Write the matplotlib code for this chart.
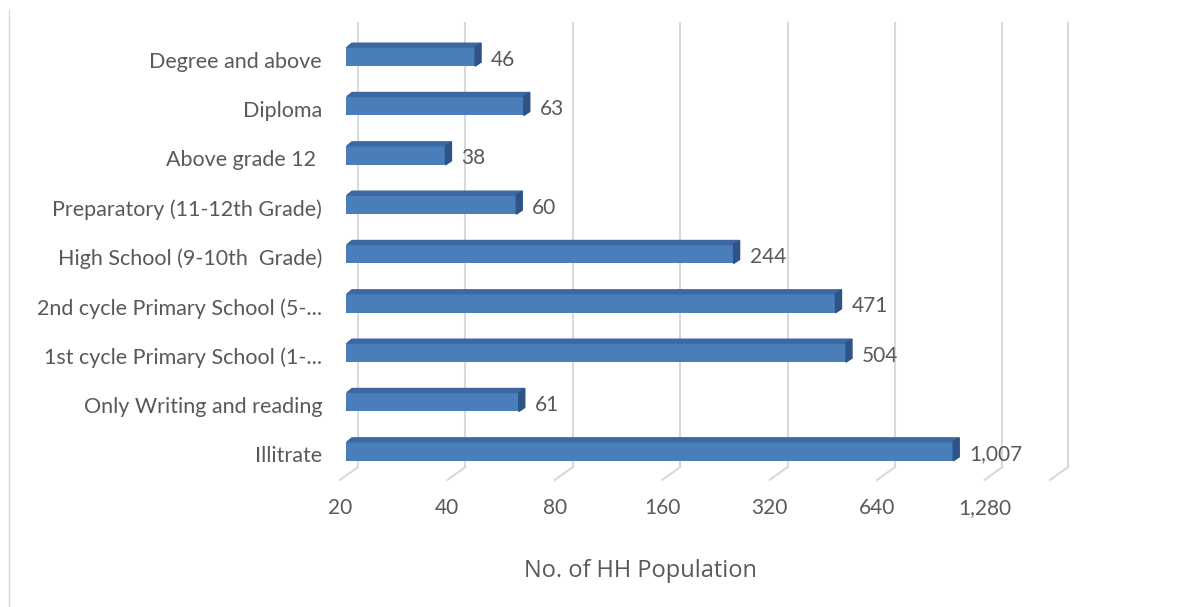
import matplotlib.pyplot as plt
import matplotlib.transforms as mtransforms
from matplotlib.patches import Polygon
from matplotlib.lines import Line2D
from matplotlib.ticker import NullLocator

# bottom to top, as Excel draws them
categories = ['Illitrate', 'Only Writing and reading', '1st cycle Primary School (1-...',
              '2nd cycle Primary School (5-...', 'High School (9-10th  Grade)',
              'Preparatory (11-12th Grade)', 'Above grade 12 ', 'Diploma', 'Degree and above']
values = [1007, 61, 504, 471, 244, 60, 38, 63, 46]

ticks = [20, 40, 80, 160, 320, 640, 1280]
tick_labels = ['20', '40', '80', '160', '320', '640', '1,280']
x_min, x_max = 20, 1955

W, H = 1189, 607
text_c = '#595959'
grid_c = '#d9d9d9'
face_c = '#4a7ebb'
top_c = '#3c68a2'
side_c = '#2f5386'
lab_font = 'Lato'

fig = plt.figure(figsize=(W / 100, H / 100), dpi=100)
ax = fig.add_axes([346 / W, (H - 476) / H, 710 / W, 444 / H])
ax.set_xscale('log', base=2)
ax.set_xlim(x_min, x_max)
ax.set_ylim(-0.5, len(categories) - 0.5)
for s in ax.spines.values():
    s.set_visible(False)
ax.xaxis.set_major_locator(NullLocator())
ax.xaxis.set_minor_locator(NullLocator())
ax.yaxis.set_major_locator(NullLocator())
ax.set_facecolor('none')

xt = ax.get_xaxis_transform()
ident = mtransforms.IdentityTransform()

# back wall gridlines + floor diagonals (fake 3D)
back = mtransforms.offset_copy(xt, fig=fig, x=12, y=9, units='dots')
for v in ticks + [x_max]:
    ax.plot([v, v], [0, 1], color=grid_c, lw=1.5, transform=back, clip_on=False, zorder=0)
    px, py = xt.transform((v, 0))
    ax.add_line(Line2D([px - 6, px + 12], [py - 4, py + 9], color=grid_c, lw=1.5,
                       transform=ident, clip_on=False, zorder=0))

# bars with a top and a side face
h = 0.385
dx, dy = 6, 4
for i, v in enumerate(values):
    ax.barh(i, v - x_min, left=x_min, height=h, color=face_c, zorder=3)
    xl, yt = ax.transData.transform((x_min, i + h / 2))
    xr, yb = ax.transData.transform((v, i - h / 2))
    ax.add_patch(Polygon([(xl + 1, yt), (xr, yt), (xr + dx, yt + dy), (xl + dx, yt + dy)],
                         closed=True, color=top_c, transform=ident, clip_on=False, zorder=3))
    ax.add_patch(Polygon([(xr, yt), (xr + dx, yt + dy), (xr + dx, yb + dy), (xr, yb)],
                         closed=True, color=side_c, transform=ident, clip_on=False, zorder=3))

ax.set_xlim(x_min, x_max)
ax.set_ylim(-0.5, len(categories) - 0.5)

# value labels
vl = mtransforms.offset_copy(ax.transData, fig=fig, x=16, y=-3, units='dots')
for i, v in enumerate(values):
    ax.text(v, i, f'{v:,}', transform=vl, ha='left', va='center',
            fontsize=15, color=text_c, family=lab_font)

# category labels
cl = mtransforms.offset_copy(ax.get_yaxis_transform(), fig=fig, x=-24, y=-5, units='dots')
for i, c in enumerate(categories):
    ax.text(0, i, c, transform=cl, ha='right', va='center',
            fontsize=15.5, color=text_c, family=lab_font)

# x tick labels on the front edge
fl = mtransforms.offset_copy(xt, fig=fig, x=-6, y=-32, units='dots')
for v, lab in zip(ticks, tick_labels):
    ax.text(v, 0, lab, transform=fl, ha='center', va='center',
            fontsize=15, color=text_c, family=lab_font)

ax.set_xlabel('No. of HH Population', fontsize=17, color=text_c, family='Open Sans')
ax.xaxis.set_label_coords((640 - 346) / 710, (476 - 571) / 444)
ax.xaxis.label.set_va('center')

# chart border on the left
fig.add_artist(Line2D([9 / W, 9 / W], [0, (H - 10) / H], transform=fig.transFigure,
                      color=grid_c, lw=1))

fig.savefig('out.png', dpi=100)
